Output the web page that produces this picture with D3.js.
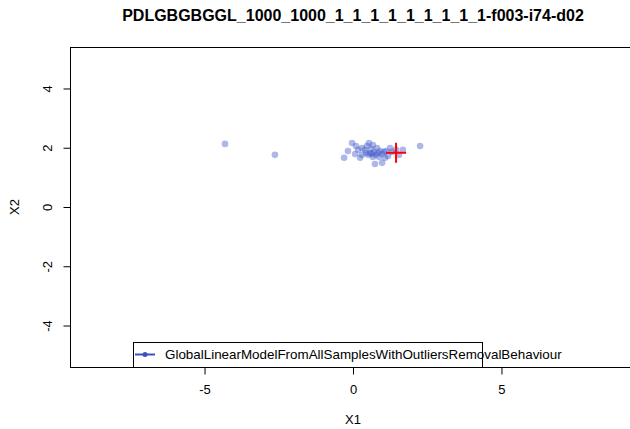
<!DOCTYPE html>
<html><head><meta charset="utf-8">
<script src="https://cdn.jsdelivr.net/npm/d3@7"></script>
<style>body{margin:0;background:#fff}svg{display:block}text{font-family:"Liberation Sans",Arial,sans-serif}</style>
</head><body>
<svg id="c" width="630" height="429"></svg>
<script>
const title = "PDLGBGBGGL_1000_1000_1_1_1_1_1_1_1_1_1-f003-i74-d02";
const xTicks = [-5, 0, 5];
const yTicks = [-4, -2, 0, 2, 4];
const legendLabel = "GlobalLinearModelFromAllSamplesWithOutliersRemovalBehaviour";
const ptsX1 = [-4.31,-2.63,2.26,-0.03,0.10,-0.17,-0.30,0.07,0.24,0.30,0.54,0.67,0.44,0.51,0.57,0.64,0.71,0.77,0.84,0.91,0.98,1.04,1.11,0.74,0.98,1.25,1.68,0.61,0.40,0.81,1.18,1.31,0.30,0.88,1.08,0.47,0.17,0.67,1.45,1.55];
const ptsX2 = [2.13,1.76,2.06,2.16,2.06,1.89,1.66,1.79,1.66,1.99,2.16,2.09,1.82,1.76,1.82,1.79,1.86,1.76,1.82,1.89,1.79,1.86,1.89,1.45,1.49,1.99,1.93,1.96,1.93,1.99,1.72,1.86,1.76,1.69,1.66,2.06,1.93,1.69,1.93,1.76];
const centerX1 = [1.45];
const centerX2 = [1.83];

const svg = d3.select("#c");
const L = 70, R = 636, T = 47, B = 367;
const x = d3.scaleLinear().domain([-9.53, 9.53]).range([L, R]);
const y = d3.scaleLinear().domain([-5.4, 5.4]).range([B, T]);
const fmt = d => String(d);

svg.append("text").attr("x", 353).attr("y", 21).attr("text-anchor", "middle")
  .attr("font-size", 16).attr("font-weight", "bold").text(title);

const g = svg.append("g");
g.selectAll("circle").data(ptsX1.map((d, i) => [d, ptsX2[i]])).join("circle")
  .attr("cx", d => x(d[0])).attr("cy", d => y(d[1])).attr("r", 3.3)
  .attr("fill", "rgb(60,85,200)").attr("fill-opacity", 0.42);

centerX1.forEach((cx, i) => {
  const px = x(cx), py = y(centerX2[i]);
  svg.append("line").attr("x1", px - 10).attr("x2", px + 10).attr("y1", py).attr("y2", py)
    .attr("stroke", "#ff0000").attr("stroke-width", 2);
  svg.append("line").attr("x1", px).attr("x2", px).attr("y1", py - 10).attr("y2", py + 10)
    .attr("stroke", "#ff0000").attr("stroke-width", 2);
});

svg.append("rect").attr("x", L + 0.5).attr("y", T + 0.5).attr("width", R - L).attr("height", B - T)
  .attr("fill", "none").attr("stroke", "#000").attr("stroke-width", 1);

const xa = svg.append("g").attr("transform", `translate(0,${B + 0.5})`)
  .call(d3.axisBottom(x).tickValues(xTicks).tickSize(7).tickPadding(10).tickFormat(fmt));
xa.select(".domain").remove();
xa.selectAll("text").attr("font-size", 13).attr("font-family", "Liberation Sans, Arial, sans-serif");
xa.selectAll("line").attr("stroke", "#000");

const ya = svg.append("g").attr("transform", `translate(${L + 0.5},0)`)
  .call(d3.axisLeft(y).tickValues(yTicks).tickSize(7).tickFormat(fmt));
ya.select(".domain").remove();
ya.selectAll("line").attr("stroke", "#000");
ya.selectAll("text").attr("font-size", 13).attr("font-family", "Liberation Sans, Arial, sans-serif")
  .attr("text-anchor", "middle").attr("x", null)
  .attr("transform", "translate(-23,0) rotate(-90)").attr("dy", "0.35em");

svg.append("text").attr("x", 353).attr("y", 424).attr("text-anchor", "middle").attr("font-size", 13).text("X1");
svg.append("text").attr("transform", `translate(19,${y(0)}) rotate(-90)`).attr("text-anchor", "middle")
  .attr("font-size", 13).text("X2");

const lg = svg.append("g");
lg.append("rect").attr("x", 133.5).attr("y", 342.5).attr("width", 349).attr("height", 25)
  .attr("fill", "#fff").attr("stroke", "#000").attr("stroke-width", 1);
lg.append("line").attr("x1", 135).attr("x2", 155).attr("y1", 354.5).attr("y2", 354.5)
  .attr("stroke", "rgb(60,80,190)").attr("stroke-width", 2);
lg.append("circle").attr("cx", 145).attr("cy", 354.5).attr("r", 2.5).attr("fill", "rgb(60,80,190)");
lg.append("text").attr("x", 165).attr("y", 359).attr("font-size", 13.4).text(legendLabel);
</script>
</body></html>
